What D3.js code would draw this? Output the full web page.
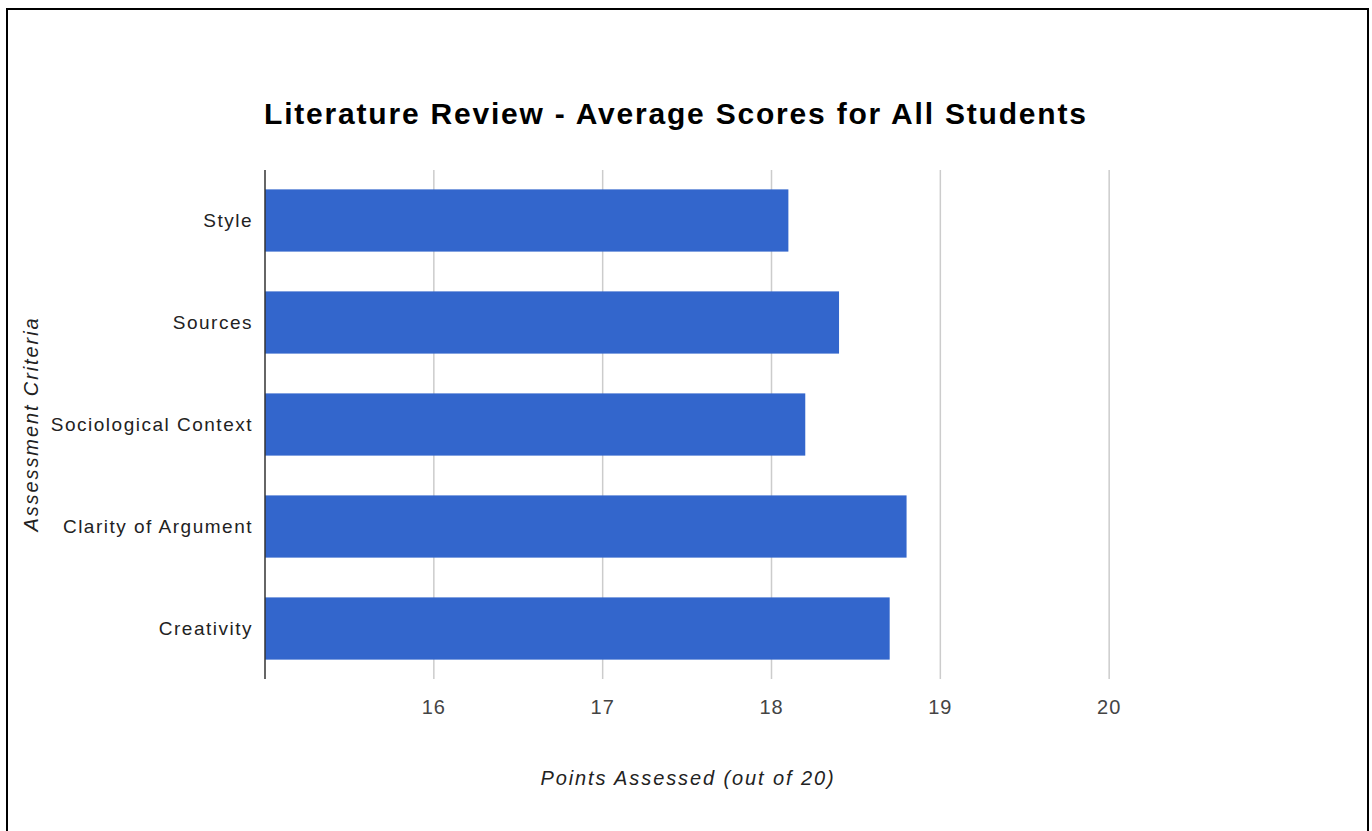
<!DOCTYPE html>
<html>
<head>
<meta charset="utf-8">
<script src="https://cdn.jsdelivr.net/npm/d3@7"></script>
<style>
  body { margin: 0; background: #fff; }
  svg { display: block; font-family: "Liberation Sans", Arial, sans-serif; }
</style>
</head>
<body>
<div id="chart"></div>
<script>
// Datos
var criteria = ["Style", "Sources", "Sociological Context", "Clarity of Argument", "Creativity"]
var scores = [18.1, 18.4, 18.2, 18.8, 18.7]
var ticks = [16, 17, 18, 19, 20]

var width = 1372, height = 831
var margin = { top: 170, left: 265, right: 94, bottom: 152 }

var svg = d3.select("#chart")
  .append("svg")
  .attr("width", width)
  .attr("height", height)

// Marco
svg.append("rect")
  .attr("x", 7)
  .attr("y", 9)
  .attr("width", 1361)
  .attr("height", 840)
  .attr("fill", "none")
  .attr("stroke", "#000")
  .attr("stroke-width", 2)

var data = criteria.map(function(c, i) { return { name: c, value: scores[i] } })

// Escalas
var x = d3.scaleLinear()
  .domain([15, 21])
  .range([margin.left, width - margin.right])

var y = d3.scaleBand()
  .domain(criteria)
  .range([margin.top, height - margin.bottom])
  .paddingInner(0.39)
  .paddingOuter(0.19)

// Grid
svg.selectAll(".grid")
  .data(ticks)
  .enter().append("line")
  .attr("class", "grid")
  .attr("x1", function(d) { return x(d) })
  .attr("x2", function(d) { return x(d) })
  .attr("y1", margin.top)
  .attr("y2", height - margin.bottom)
  .attr("stroke", "#cccccc")
  .attr("stroke-width", 1.5)

// Barras
svg.selectAll(".bar")
  .data(data)
  .enter().append("rect")
  .attr("class", "bar")
  .attr("x", x(15))
  .attr("y", function(d) { return y(d.name) })
  .attr("width", function(d) { return x(d.value) - x(15) })
  .attr("height", y.bandwidth())
  .attr("fill", "#3366cc")

// Eje vertical
svg.append("line")
  .attr("x1", x(15))
  .attr("x2", x(15))
  .attr("y1", margin.top)
  .attr("y2", height - margin.bottom)
  .attr("stroke", "#333")
  .attr("stroke-width", 1.5)

// Etiquetas
svg.selectAll(".tick-label")
  .data(ticks)
  .enter().append("text")
  .attr("x", function(d) { return x(d) })
  .attr("y", 714)
  .attr("text-anchor", "middle")
  .attr("font-size", 20)
  .attr("letter-spacing", 1)
  .attr("fill", "#444")
  .text(function(d) { return d })

svg.selectAll(".cat-label")
  .data(criteria)
  .enter().append("text")
  .attr("x", 253)
  .attr("y", function(d) { return y(d) + y.bandwidth() / 2 })
  .attr("dy", "0.35em")
  .attr("text-anchor", "end")
  .attr("font-size", 19)
  .attr("letter-spacing", 1.5)
  .attr("fill", "#222")
  .text(function(d) { return d })

// Título
svg.append("text")
  .attr("x", 264)
  .attr("y", 124)
  .attr("font-size", 30)
  .attr("font-weight", "bold")
  .attr("letter-spacing", 1.8)
  .attr("fill", "#000")
  .text("Literature Review - Average Scores for All Students")

svg.append("text")
  .attr("x", 688)
  .attr("y", 785)
  .attr("text-anchor", "middle")
  .attr("font-size", 20)
  .attr("font-style", "italic")
  .attr("letter-spacing", 1.9)
  .attr("fill", "#222")
  .text("Points Assessed (out of 20)")

svg.append("text")
  .attr("transform", "translate(38," + (424) + ") rotate(-90)")
  .attr("text-anchor", "middle")
  .attr("font-size", 20)
  .attr("font-style", "italic")
  .attr("letter-spacing", 1.9)
  .attr("fill", "#222")
  .text("Assessment Criteria")
</script>
</body>
</html>
